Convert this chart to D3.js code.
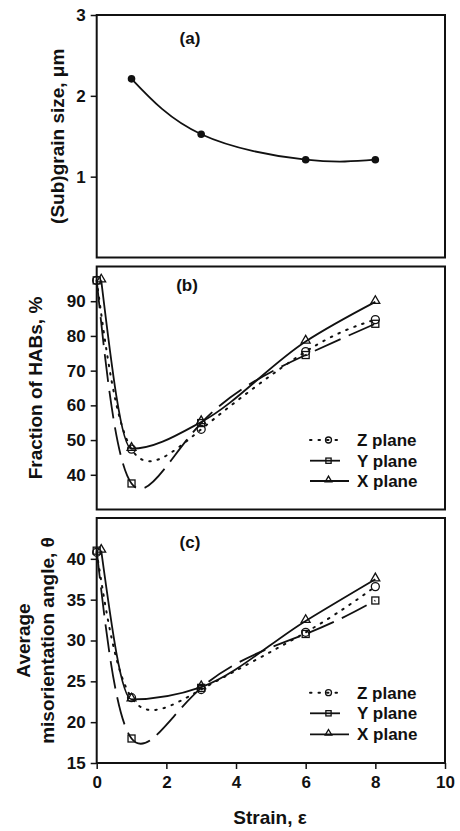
<!DOCTYPE html>
<html>
<head>
<meta charset="utf-8">
<script src="https://cdn.jsdelivr.net/npm/d3@7"></script>
<style>
  body { margin: 0; background: #fff; }
  text { font-family: "Liberation Sans", Arial, sans-serif; font-weight: bold; fill: #111; }
</style>
</head>
<body>
<svg id="chart" width="460" height="831"></svg>
<script>
// values
const strainA = [1, 3, 6, 8];
const grainSize = [2.21, 1.525, 1.21, 1.21];

const strainZ = [0, 1, 3, 6, 8];
const strainY = [0, 1, 3, 6, 8];
const strainX = [0.13, 1, 3, 6, 8];

const habZ = [96, 47.4, 53.1, 75.5, 84.7];
const habY = [96, 37.5, 54.9, 74.5, 83.5];
const habX = [96, 47.5, 55.2, 78.4, 89.8];

const angleZ = [40.8, 23.0, 24.0, 31.0, 36.6];
const angleY = [41.0, 18.0, 24.2, 30.8, 34.9];
const angleX = [41.0, 22.8, 24.3, 32.4, 37.5];

const ticksA = [1, 2, 3];
const ticksB = [40, 50, 60, 70, 80, 90];
const ticksC = [15, 20, 25, 30, 35, 40];
const ticksStrain = [0, 2, 4, 6, 8, 10];

const planeNames = ["Z plane", "Y plane", "X plane"];

var svg = d3.select("#chart");
var left = 96.7, right = 445;

var x = d3.scaleLinear().domain([0, 10]).range([left, right]);

/** draws the frame, left axis, title and panel letter of one panel, returns its y scale */
function draw_panel(top, bottom, domain, ticks, title, letter, letterX, letterY, titleX) {

   var y = d3.scaleLinear().domain(domain).range([bottom, top]);

   svg.append("rect")
      .attr("x", left).attr("y", top)
      .attr("width", right - left).attr("height", bottom - top)
      .attr("fill", "none").attr("stroke", "#111").attr("stroke-width", 2);

   var ax = svg.append("g")
      .attr("transform", "translate(" + left + ",0)")
      .call(d3.axisLeft(y).tickValues(ticks).tickFormat(d3.format("d")).tickSize(6).tickPadding(5));
   ax.select(".domain").remove();
   ax.selectAll("line").attr("stroke", "#111").attr("stroke-width", 1.5);
   ax.selectAll("text").attr("font-size", 17).attr("font-family", null).attr("fill", "#111");

   var mid = (top + bottom) / 2;
   title.forEach(function(t, i) {
      svg.append("text")
         .attr("transform", "translate(" + titleX[i] + "," + mid + ") rotate(-90)")
         .attr("text-anchor", "middle")
         .attr("dy", "0.35em")
         .attr("font-size", 19)
         .text(t);
   });

   svg.append("text")
      .attr("x", letterX).attr("y", letterY)
      .attr("text-anchor", "middle").attr("dy", "0.35em")
      .attr("font-size", 17)
      .text(letter);

   return y;
}

function add_marker(g, kind, cx, cy, small) {
   var k = small ? 0.75 : 1;
   if (kind == "circle") {
      g.append("circle").attr("cx", cx).attr("cy", cy).attr("r", 4 * k)
       .attr("fill", "none").attr("stroke", "#111").attr("stroke-width", 1.3);
   }
   else if (kind == "square") {
      var s = 7 * k;
      g.append("rect").attr("x", cx - s / 2).attr("y", cy - s / 2).attr("width", s).attr("height", s)
       .attr("fill", "none").attr("stroke", "#111").attr("stroke-width", 1.3);
   }
   else {
      g.append("path")
       .attr("d", d3.symbol(d3.symbolTriangle).size(34 * k * k)())
       .attr("transform", "translate(" + cx + "," + (cy - 1) + ")")
       .attr("fill", "none").attr("stroke", "#111").attr("stroke-width", 1.3);
   }
}

var styles = [
   {marker: "circle", dash: "1.5,7", cap: "round", curve: d3.curveNatural},
   {marker: "square", dash: "28,9", cap: "butt", curve: d3.curveNatural},
   {marker: "triangle", dash: null, cap: "butt", curve: d3.curveMonotoneX}
];

function draw_series(y, xs, ys, st) {
   var pts = d3.zip(xs, ys);
   svg.append("path")
      .datum(pts)
      .attr("fill", "none")
      .attr("stroke", "#111")
      .attr("stroke-width", st.dash && st.cap == "round" ? 2 : 1.8)
      .attr("stroke-linecap", st.cap)
      .attr("stroke-dasharray", st.dash)
      .attr("d", d3.line()
              .x(function(d) { return x(d[0]); })
              .y(function(d) { return y(d[1]); })
              .curve(st.curve));
   var g = svg.append("g");
   pts.forEach(function(d) { add_marker(g, st.marker, x(d[0]), y(d[1]), false); });
}

function draw_legend(rows) {
   var lens = [[310, 342], [310, 340], [310, 349]];
   styles.forEach(function(st, i) {
      var ly = rows[i];
      svg.append("line")
         .attr("x1", lens[i][0]).attr("x2", lens[i][1])
         .attr("y1", ly).attr("y2", ly)
         .attr("stroke", "#111").attr("stroke-width", st.cap == "round" ? 2 : 1.8)
         .attr("stroke-linecap", st.cap)
         .attr("stroke-dasharray", st.cap == "round" ? st.dash : null);
      add_marker(svg.append("g"), st.marker, 328.5, ly, true);
      svg.append("text")
         .attr("x", 357).attr("y", ly).attr("dy", "0.35em")
         .attr("font-size", 17)
         .text(planeNames[i]);
   });
}

// (a)
var yA = draw_panel(15, 257.5, [0, 3], ticksA, ["(Sub)grain size, \u03bcm"], "(a)", 190, 38, [57.5]);
svg.append("path")
   .datum(d3.zip(strainA, grainSize))
   .attr("fill", "none").attr("stroke", "#111").attr("stroke-width", 1.8)
   .attr("d", d3.line()
           .x(function(d) { return x(d[0]); })
           .y(function(d) { return yA(d[1]); })
           .curve(d3.curveNatural));
svg.append("g").selectAll("circle")
   .data(d3.zip(strainA, grainSize)).join("circle")
   .attr("cx", function(d) { return x(d[0]); })
   .attr("cy", function(d) { return yA(d[1]); })
   .attr("r", 3.8).attr("fill", "#111");

// (b)
var yB = draw_panel(266.5, 509.5, [30, 100], ticksB, ["Fraction of HABs, %"], "(b)", 187, 285, [35.5]);
draw_series(yB, strainZ, habZ, styles[0]);
draw_series(yB, strainY, habY, styles[1]);
draw_series(yB, strainX, habX, styles[2]);
draw_legend([440, 460.7, 481]);

// (c)
var yC = draw_panel(518, 763, [15, 45], ticksC, ["Average", "misorientation angle, \u03b8"], "(c)", 190, 541.7, [23, 47]);
draw_series(yC, strainZ, angleZ, styles[0]);
draw_series(yC, strainY, angleY, styles[1]);
draw_series(yC, strainX, angleX, styles[2]);
draw_legend([692.7, 713.3, 734.3]);

var xa = svg.append("g")
   .attr("transform", "translate(0,763)")
   .call(d3.axisBottom(x).tickValues(ticksStrain).tickSize(6).tickPadding(7));
xa.select(".domain").remove();
xa.selectAll("line").attr("stroke", "#111").attr("stroke-width", 1.5);
xa.selectAll("text").attr("font-size", 17).attr("font-family", null).attr("fill", "#111");

svg.append("text")
   .attr("x", 270).attr("y", 817).attr("dy", "0.35em")
   .attr("text-anchor", "middle").attr("font-size", 19)
   .text("Strain, \u03b5");
</script>
</body>
</html>
